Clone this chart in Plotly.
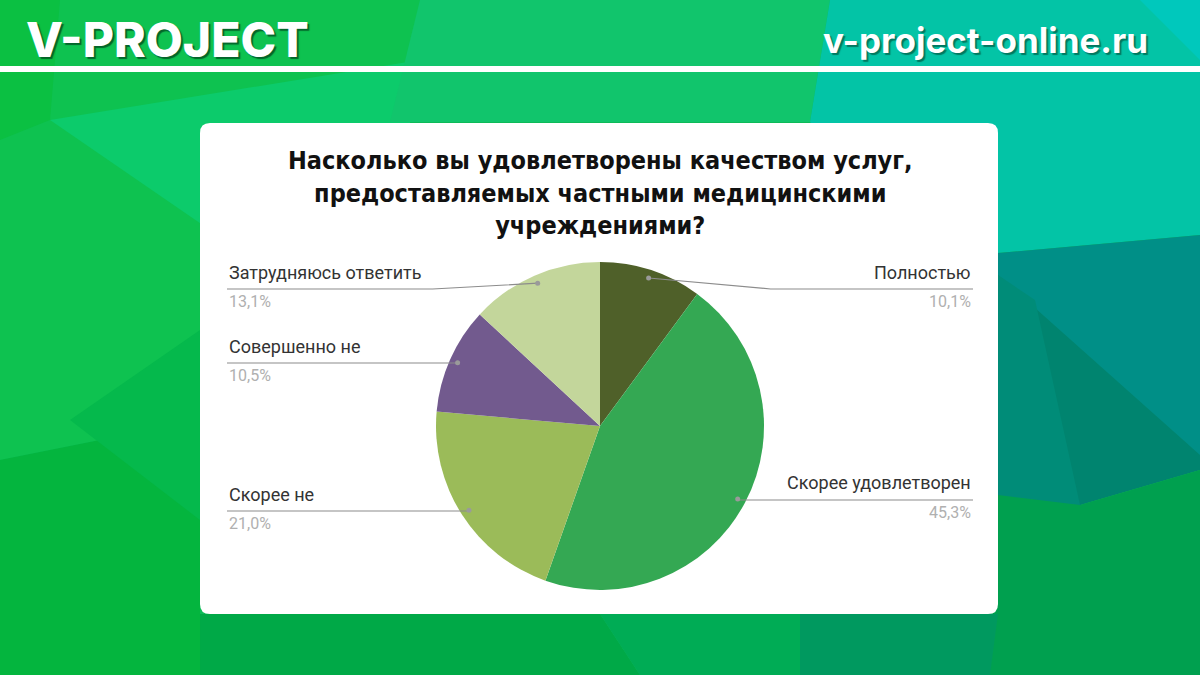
import math
import plotly.graph_objects as go

# ---------------- data ----------------
categories = ["Полностью", "Скорее удовлетворен", "Скорее не", "Совершенно не", "Затрудняюсь ответить"]
values = [10.1, 45.3, 21.0, 10.5, 13.1]
colors = ["#4F6029", "#34A853", "#9BBB59", "#725A8E", "#C3D69B"]
title_text = "Насколько вы удовлетворены качеством услуг,<br>предоставляемых частными медицинскими<br>учреждениями?"
brand_left = "V-PROJECT"
brand_right = "v-project-online.ru"

# ---------------- layout constants (pixels) ----------------
W, H = 1200, 675
PIE_CX, PIE_CY, PIE_R = 600, 426, 164
label_side = ["right", "right", "left", "left", "left"]
label_line_y = [289, 500, 511, 363, 289]
label_elbow = [122, 0, 0, 0, -105]  # horizontal offset of elbow from dot
LEFT_X, RIGHT_X = 227, 973


def px(x):
    return x / W


def py(y):
    return 1 - y / H


def poly(points):
    return "M " + " L ".join(f"{px(x):.5f},{py(y):.5f}" for x, y in points) + " Z"


shapes = []
# background polygons
bg = [
    ([(0, 0), (1200, 0), (1200, 675), (0, 675)], "#0DBB58"),
    ([(0, 0), (430, 0), (390, 250), (200, 420), (0, 460)], "#0EC250"),
    ([(0, 0), (60, 0), (50, 120), (0, 140)], "#0BC042"),
    ([(50, 120), (420, 60), (390, 250), (210, 230)], "#0CCB6B"),
    ([(420, 0), (830, 0), (810, 122), (390, 122)], "#11C56C"),
    ([(830, 0), (1200, 0), (1200, 235), (998, 253), (920, 260), (810, 122)], "#03C4A6"),
    ([(1140, 0), (1200, 0), (1200, 60)], "#00C8BC"),
    ([(998, 253), (1200, 235), (1200, 460), (1080, 505), (998, 275)], "#008F87"),
    ([(998, 275), (1200, 455), (1200, 470), (1080, 505), (998, 500)], "#00846F"),
    ([(998, 275), (1035, 300), (1080, 505), (998, 500)], "#008C78"),
    ([(998, 495), (1080, 505), (1200, 470), (1200, 675), (950, 675), (940, 614)], "#00A04F"),
    ([(0, 460), (200, 420), (200, 675), (0, 675)], "#04B53E"),
    ([(70, 420), (200, 330), (200, 520)], "#05B94C"),
    ([(200, 614), (600, 614), (640, 675), (200, 675)], "#00A947"),
    ([(600, 614), (800, 614), (800, 675), (640, 675)], "#00AC55"),
    ([(800, 614), (998, 614), (990, 675), (800, 675)], "#00995F"),
]
for pts, col in bg:
    shapes.append(dict(type="path", xref="paper", yref="paper", path=poly(pts),
                       fillcolor=col, line=dict(width=0), layer="below"))

# header white line
shapes.append(dict(type="rect", xref="paper", yref="paper", x0=0, x1=1,
                   y0=py(72), y1=py(66), fillcolor="white", line=dict(width=0), layer="below"))

# white rounded card
cx0, cy0, cx1, cy1, rr = 200, 123, 998, 614, 10
card = (f"M {px(cx0+rr)},{py(cy0)} L {px(cx1-rr)},{py(cy0)} Q {px(cx1)},{py(cy0)} {px(cx1)},{py(cy0+rr)} "
        f"L {px(cx1)},{py(cy1-rr)} Q {px(cx1)},{py(cy1)} {px(cx1-rr)},{py(cy1)} "
        f"L {px(cx0+rr)},{py(cy1)} Q {px(cx0)},{py(cy1)} {px(cx0)},{py(cy1-rr)} "
        f"L {px(cx0)},{py(cy0+rr)} Q {px(cx0)},{py(cy0)} {px(cx0+rr)},{py(cy0)} Z")
shapes.append(dict(type="path", xref="paper", yref="paper", path=card,
                   fillcolor="white", line=dict(width=0), layer="below"))

annotations = []
# leader lines, dots and labels
total = sum(values)
cum = 0.0
for i, (cat, v) in enumerate(zip(categories, values)):
    mid = (cum + v / 2) / total * 2 * math.pi
    cum += v
    dx = PIE_CX + 0.95 * PIE_R * math.sin(mid)
    dy = PIE_CY - 0.95 * PIE_R * math.cos(mid)
    ly = label_line_y[i]
    ex = dx + label_elbow[i]
    end_x = RIGHT_X if label_side[i] == "right" else LEFT_X
    path = f"M {px(dx)},{py(dy)} L {px(ex)},{py(ly)} L {px(end_x)},{py(ly)}"
    shapes.append(dict(type="path", xref="paper", yref="paper", path=path,
                       line=dict(color="#8C8C8C", width=1.2), layer="above"))
    shapes.append(dict(type="circle", xref="paper", yref="paper",
                       x0=px(dx - 2.5), x1=px(dx + 2.5), y0=py(dy + 2.5), y1=py(dy - 2.5),
                       fillcolor="#9A9A9A", line=dict(width=0), layer="above"))
    anchor = "right" if label_side[i] == "right" else "left"
    annotations.append(dict(xref="paper", yref="paper", x=px(end_x), y=py(ly - 17),
                            text=cat, showarrow=False, xanchor=anchor, yanchor="middle",
                            font=dict(family="Roboto, sans-serif", size=18, color="#333333")))
    annotations.append(dict(xref="paper", yref="paper", x=px(end_x), y=py(ly + 12),
                            text=f"{v:.1f}".replace(".", ",") + "%", showarrow=False,
                            xanchor=anchor, yanchor="middle",
                            font=dict(family="Roboto, sans-serif", size=16, color="#B0B0B0")))

# title
annotations.append(dict(xref="paper", yref="paper", x=0.5, y=py(193), text="<b>" + title_text + "</b>",
                        showarrow=False, xanchor="center", yanchor="middle", align="center",
                        font=dict(family="Liberation Sans Narrow, DejaVu Sans Condensed, sans-serif",
                                  size=25, color="#111111")))
# brand texts
annotations.append(dict(xref="paper", yref="paper", x=px(24), y=py(40), text=brand_left,
                        showarrow=False, xanchor="left", yanchor="middle",
                        font=dict(family="Inter, sans-serif", size=48, color="white", weight=800,
                                  shadow="2px 2px 1px rgba(0,70,30,0.75)")))
annotations.append(dict(xref="paper", yref="paper", x=px(1150), y=py(40), text=brand_right,
                        showarrow=False, xanchor="right", yanchor="middle",
                        font=dict(family="Inter, sans-serif", size=35, color="white", weight=700,
                                  shadow="2px 2px 1px rgba(0,70,50,0.6)")))

fig = go.Figure(go.Pie(
    labels=categories, values=values, sort=False, direction="clockwise", rotation=0,
    marker=dict(colors=colors, line=dict(width=0)), textinfo="none", hoverinfo="label+percent",
    domain=dict(x=[px(PIE_CX - PIE_R), px(PIE_CX + PIE_R)], y=[py(PIE_CY + PIE_R), py(PIE_CY - PIE_R)]),
))
fig.update_layout(width=W, height=H, margin=dict(l=0, r=0, t=0, b=0), showlegend=False,
                  paper_bgcolor="#0DBB58", plot_bgcolor="rgba(0,0,0,0)",
                  shapes=shapes, annotations=annotations)
fig.write_html("out.html", config={"displayModeBar": False},
               post_script="document.body.style.margin='0px';document.body.style.overflow='hidden';")
